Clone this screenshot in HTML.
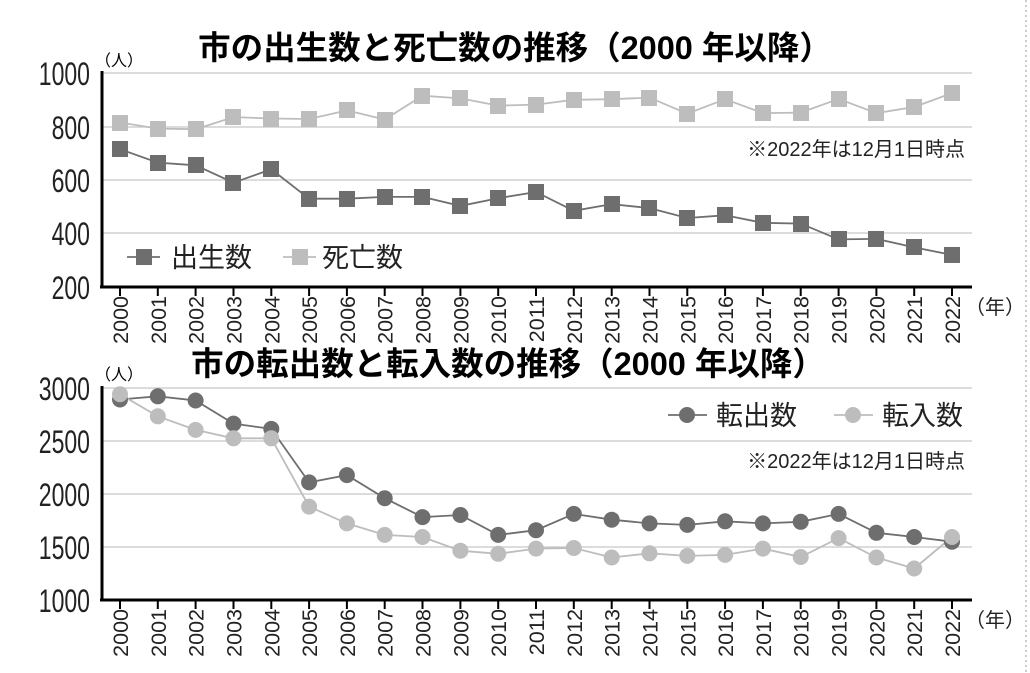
<!DOCTYPE html><html><head><meta charset="utf-8"><style>body{margin:0;background:#fff}svg{display:block;font-family:"Liberation Sans","Noto Sans CJK JP",sans-serif}</style></head><body>
<svg width="1030" height="673" viewBox="0 0 1030 673">
<line x1="1026" y1="0" x2="1026" y2="673" stroke="#bbb" stroke-width="1.5" stroke-dasharray="2,3"/>
<text x="515" y="59" font-size="32.5" font-weight="bold" text-anchor="middle">市の出生数と死亡数の推移（2000 年以降）</text>
<g stroke="#c8c8c8" stroke-width="1.3"><line x1="102" y1="73" x2="972" y2="73"/><line x1="102" y1="127" x2="972" y2="127"/><line x1="102" y1="180" x2="972" y2="180"/><line x1="102" y1="233" x2="972" y2="233"/></g>
<g font-size="32" text-anchor="end" fill="#222"><text transform="translate(90,85) scale(0.72,1)">1000</text><text transform="translate(90,139) scale(0.72,1)">800</text><text transform="translate(90,192) scale(0.72,1)">600</text><text transform="translate(90,245) scale(0.72,1)">400</text><text transform="translate(90,299) scale(0.72,1)">200</text></g>
<text x="95" y="66" font-size="16">（人）</text>
<polyline fill="none" stroke="#6e6e6e" stroke-width="1.8" points="120,149.2 157.8,162.6 195.6,165.3 233.5,182.7 271.3,169.3 309.1,198.7 346.9,198.7 384.7,196.9 422.5,196.9 460.4,205.9 498.2,198.2 536,192 573.8,210.8 611.7,204.1 649.5,208.1 687.3,218 725.1,215.3 762.9,222.8 800.7,223.6 838.6,239.4 876.4,238.9 914.2,247.4 952,254.9"/>
<polyline fill="none" stroke="#bdbdbd" stroke-width="1.8" points="120,122.5 157.8,128.6 195.6,129.2 233.5,117.1 271.3,118.5 309.1,119 346.9,110.4 384.7,119.5 422.5,95.7 460.4,98.4 498.2,105.6 536,104.6 573.8,99.8 611.7,99.2 649.5,97.6 687.3,113.7 725.1,99.2 762.9,113.1 800.7,112.6 838.6,98.9 876.4,113.1 914.2,107 952,93.1"/>
<g fill="#6e6e6e"><rect x="112" y="141" width="16" height="16"/><rect x="150" y="155" width="16" height="16"/><rect x="188" y="157" width="16" height="16"/><rect x="225" y="175" width="16" height="16"/><rect x="263" y="161" width="16" height="16"/><rect x="301" y="191" width="16" height="16"/><rect x="339" y="191" width="16" height="16"/><rect x="377" y="189" width="16" height="16"/><rect x="414" y="189" width="16" height="16"/><rect x="452" y="198" width="16" height="16"/><rect x="490" y="190" width="16" height="16"/><rect x="528" y="184" width="16" height="16"/><rect x="566" y="203" width="16" height="16"/><rect x="604" y="196" width="16" height="16"/><rect x="641" y="200" width="16" height="16"/><rect x="679" y="210" width="16" height="16"/><rect x="717" y="207" width="16" height="16"/><rect x="755" y="215" width="16" height="16"/><rect x="793" y="216" width="16" height="16"/><rect x="831" y="231" width="16" height="16"/><rect x="868" y="231" width="16" height="16"/><rect x="906" y="239" width="16" height="16"/><rect x="944" y="247" width="16" height="16"/></g>
<g fill="#bdbdbd"><rect x="112" y="115" width="16" height="16"/><rect x="150" y="121" width="16" height="16"/><rect x="188" y="121" width="16" height="16"/><rect x="225" y="109" width="16" height="16"/><rect x="263" y="111" width="16" height="16"/><rect x="301" y="111" width="16" height="16"/><rect x="339" y="102" width="16" height="16"/><rect x="377" y="112" width="16" height="16"/><rect x="414" y="88" width="16" height="16"/><rect x="452" y="90" width="16" height="16"/><rect x="490" y="98" width="16" height="16"/><rect x="528" y="97" width="16" height="16"/><rect x="566" y="92" width="16" height="16"/><rect x="604" y="91" width="16" height="16"/><rect x="641" y="90" width="16" height="16"/><rect x="679" y="106" width="16" height="16"/><rect x="717" y="91" width="16" height="16"/><rect x="755" y="105" width="16" height="16"/><rect x="793" y="105" width="16" height="16"/><rect x="831" y="91" width="16" height="16"/><rect x="868" y="105" width="16" height="16"/><rect x="906" y="99" width="16" height="16"/><rect x="944" y="85" width="16" height="16"/></g>
<text x="965" y="156" font-size="20" text-anchor="end" fill="#222">※2022年は12月1日時点</text>
<line x1="127" y1="257" x2="160" y2="257" stroke="#6e6e6e" stroke-width="1.8"/><rect x="136" y="249" width="16" height="16" fill="#6e6e6e"/><text x="171" y="267" font-size="27" fill="#222">出生数</text>
<line x1="283" y1="257" x2="316" y2="257" stroke="#bdbdbd" stroke-width="1.8"/><rect x="292" y="249" width="16" height="16" fill="#bdbdbd"/><text x="322" y="267" font-size="27" fill="#222">死亡数</text>
<line x1="102" y1="71" x2="102" y2="288" stroke="#000" stroke-width="3"/><line x1="100" y1="287" x2="972" y2="287" stroke="#000" stroke-width="3"/>
<g stroke="#000" stroke-width="2" id="tk"><line x1="120" y1="287" x2="120" y2="296"/><line x1="157.8" y1="287" x2="157.8" y2="296"/><line x1="195.6" y1="287" x2="195.6" y2="296"/><line x1="233.5" y1="287" x2="233.5" y2="296"/><line x1="271.3" y1="287" x2="271.3" y2="296"/><line x1="309.1" y1="287" x2="309.1" y2="296"/><line x1="346.9" y1="287" x2="346.9" y2="296"/><line x1="384.7" y1="287" x2="384.7" y2="296"/><line x1="422.5" y1="287" x2="422.5" y2="296"/><line x1="460.4" y1="287" x2="460.4" y2="296"/><line x1="498.2" y1="287" x2="498.2" y2="296"/><line x1="536" y1="287" x2="536" y2="296"/><line x1="573.8" y1="287" x2="573.8" y2="296"/><line x1="611.7" y1="287" x2="611.7" y2="296"/><line x1="649.5" y1="287" x2="649.5" y2="296"/><line x1="687.3" y1="287" x2="687.3" y2="296"/><line x1="725.1" y1="287" x2="725.1" y2="296"/><line x1="762.9" y1="287" x2="762.9" y2="296"/><line x1="800.7" y1="287" x2="800.7" y2="296"/><line x1="838.6" y1="287" x2="838.6" y2="296"/><line x1="876.4" y1="287" x2="876.4" y2="296"/><line x1="914.2" y1="287" x2="914.2" y2="296"/><line x1="952" y1="287" x2="952" y2="296"/></g>
<g font-size="21.5" fill="#222" text-anchor="end" id="yl"><text transform="translate(128,296) rotate(-90)">2000</text><text transform="translate(165.8,296) rotate(-90)">2001</text><text transform="translate(203.6,296) rotate(-90)">2002</text><text transform="translate(241.5,296) rotate(-90)">2003</text><text transform="translate(279.3,296) rotate(-90)">2004</text><text transform="translate(317.1,296) rotate(-90)">2005</text><text transform="translate(354.9,296) rotate(-90)">2006</text><text transform="translate(392.7,296) rotate(-90)">2007</text><text transform="translate(430.5,296) rotate(-90)">2008</text><text transform="translate(468.4,296) rotate(-90)">2009</text><text transform="translate(506.2,296) rotate(-90)">2010</text><text transform="translate(544,296) rotate(-90)">2011</text><text transform="translate(581.8,296) rotate(-90)">2012</text><text transform="translate(619.7,296) rotate(-90)">2013</text><text transform="translate(657.5,296) rotate(-90)">2014</text><text transform="translate(695.3,296) rotate(-90)">2015</text><text transform="translate(733.1,296) rotate(-90)">2016</text><text transform="translate(770.9,296) rotate(-90)">2017</text><text transform="translate(808.7,296) rotate(-90)">2018</text><text transform="translate(846.6,296) rotate(-90)">2019</text><text transform="translate(884.4,296) rotate(-90)">2020</text><text transform="translate(922.2,296) rotate(-90)">2021</text><text transform="translate(960,296) rotate(-90)">2022</text></g>
<text x="965" y="314" font-size="20" fill="#222">（年）</text>

<text x="508" y="375" font-size="32.5" font-weight="bold" text-anchor="middle">市の転出数と転入数の推移（2000 年以降）</text>
<g stroke="#c8c8c8" stroke-width="1.3"><line x1="102" y1="388" x2="972" y2="388"/><line x1="102" y1="441" x2="972" y2="441"/><line x1="102" y1="494" x2="972" y2="494"/><line x1="102" y1="547" x2="972" y2="547"/></g>
<g font-size="32" text-anchor="end" fill="#222"><text transform="translate(90,400) scale(0.72,1)">3000</text><text transform="translate(90,453) scale(0.72,1)">2500</text><text transform="translate(90,506) scale(0.72,1)">2000</text><text transform="translate(90,559) scale(0.72,1)">1500</text><text transform="translate(90,612) scale(0.72,1)">1000</text></g>
<text x="95" y="380" font-size="16">（人）</text>
<polyline fill="none" stroke="#6e6e6e" stroke-width="1.8" points="120,399.5 157.8,396.3 195.6,400.5 233.5,423.6 271.3,428.9 309.1,482.4 346.9,475.1 384.7,498.2 422.5,517.1 460.4,515 498.2,534.9 536,530.2 573.8,513.9 611.7,519.7 649.5,523.4 687.3,524.9 725.1,521.3 762.9,523.4 800.7,521.8 838.6,513.9 876.4,532.8 914.2,537 952,541.7"/>
<polyline fill="none" stroke="#bdbdbd" stroke-width="1.8" points="120,394.2 157.8,416.3 195.6,429.9 233.5,438.3 271.3,438.3 309.1,506.6 346.9,523.4 384.7,534.9 422.5,537 460.4,550.7 498.2,553.8 536,548.6 573.8,548 611.7,557.5 649.5,553.3 687.3,555.9 725.1,554.9 762.9,548.6 800.7,557 838.6,538.1 876.4,557.5 914.2,568.5 952,537"/>
<g fill="#6e6e6e"><circle cx="120" cy="399.5" r="8"/><circle cx="157.8" cy="396.3" r="8"/><circle cx="195.6" cy="400.5" r="8"/><circle cx="233.5" cy="423.6" r="8"/><circle cx="271.3" cy="428.9" r="8"/><circle cx="309.1" cy="482.4" r="8"/><circle cx="346.9" cy="475.1" r="8"/><circle cx="384.7" cy="498.2" r="8"/><circle cx="422.5" cy="517.1" r="8"/><circle cx="460.4" cy="515" r="8"/><circle cx="498.2" cy="534.9" r="8"/><circle cx="536" cy="530.2" r="8"/><circle cx="573.8" cy="513.9" r="8"/><circle cx="611.7" cy="519.7" r="8"/><circle cx="649.5" cy="523.4" r="8"/><circle cx="687.3" cy="524.9" r="8"/><circle cx="725.1" cy="521.3" r="8"/><circle cx="762.9" cy="523.4" r="8"/><circle cx="800.7" cy="521.8" r="8"/><circle cx="838.6" cy="513.9" r="8"/><circle cx="876.4" cy="532.8" r="8"/><circle cx="914.2" cy="537" r="8"/><circle cx="952" cy="541.7" r="8"/></g>
<g fill="#bdbdbd"><circle cx="120" cy="394.2" r="8"/><circle cx="157.8" cy="416.3" r="8"/><circle cx="195.6" cy="429.9" r="8"/><circle cx="233.5" cy="438.3" r="8"/><circle cx="271.3" cy="438.3" r="8"/><circle cx="309.1" cy="506.6" r="8"/><circle cx="346.9" cy="523.4" r="8"/><circle cx="384.7" cy="534.9" r="8"/><circle cx="422.5" cy="537" r="8"/><circle cx="460.4" cy="550.7" r="8"/><circle cx="498.2" cy="553.8" r="8"/><circle cx="536" cy="548.6" r="8"/><circle cx="573.8" cy="548" r="8"/><circle cx="611.7" cy="557.5" r="8"/><circle cx="649.5" cy="553.3" r="8"/><circle cx="687.3" cy="555.9" r="8"/><circle cx="725.1" cy="554.9" r="8"/><circle cx="762.9" cy="548.6" r="8"/><circle cx="800.7" cy="557" r="8"/><circle cx="838.6" cy="538.1" r="8"/><circle cx="876.4" cy="557.5" r="8"/><circle cx="914.2" cy="568.5" r="8"/><circle cx="952" cy="537" r="8"/></g>
<line x1="668" y1="415" x2="707" y2="415" stroke="#6e6e6e" stroke-width="1.8"/><circle cx="687" cy="415" r="8" fill="#6e6e6e"/><text x="716" y="425" font-size="27" fill="#222">転出数</text>
<line x1="834" y1="415" x2="873" y2="415" stroke="#bdbdbd" stroke-width="1.8"/><circle cx="853" cy="415" r="8" fill="#bdbdbd"/><text x="882" y="425" font-size="27" fill="#222">転入数</text>
<text x="965" y="468" font-size="20" text-anchor="end" fill="#222">※2022年は12月1日時点</text>
<line x1="102" y1="386" x2="102" y2="601" stroke="#000" stroke-width="3"/><line x1="100" y1="600" x2="972" y2="600" stroke="#000" stroke-width="3"/>
<use href="#tk" y="313"/><use href="#yl" y="313"/>
<text x="965" y="627" font-size="20" fill="#222">（年）</text>
</svg></body></html>
